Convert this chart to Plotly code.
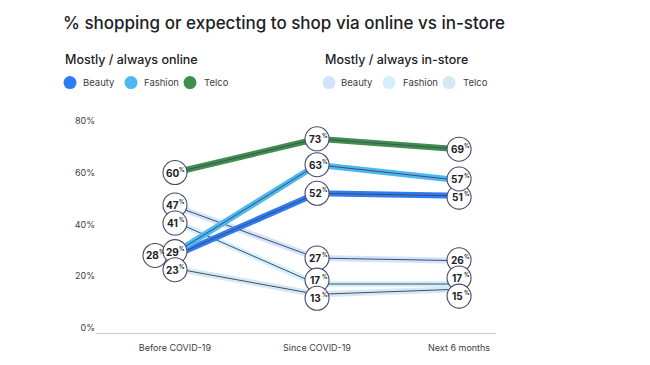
import plotly.graph_objects as go

# ---------------- data ----------------
periods = ["Before COVID-19", "Since COVID-19", "Next 6 months"]
categories = ["Beauty", "Fashion", "Telco"]
online_beauty = [28, 52, 51]
online_fashion = [29, 63, 57]
online_telco = [60, 73, 69]
instore_beauty = [47, 27, 26]
instore_fashion = [41, 17, 17]
instore_telco = [23, 13, 15]
y_tick_values = [0, 20, 40, 60, 80]
y_tick_labels = ["0%", "20%", "40%", "60%", "80%"]

# ---------------- style ----------------
PAGE = 8                      # default body margin of the html page
W, H = 650 - PAGE, 365 - PAGE
ML, MR, MT, MB = 88, 154, 108, 28
PLOT_W, PLOT_H = W - ML - MR, H - MT - MB
X_RANGE = [-0.556, 2.26]
Y_RANGE = [-1.9, 81.8]
FONT = "Inter"
DARK = "#202124"
TEXT = "#3c4043"
LINE_DARK = "#454b6b"
online_colors = ["#2d7cf4", "#4cb8f2", "#3f8f4c"]
instore_colors = ["#d3e3fc", "#d3f0fb", "#d4e9f0"]
MIN_SEP = 7        # minimum vertical separation of value bubbles (data units)
DODGE_PX = 20      # horizontal dodge for near-identical values (pixels)

series = [
    ("online", "Beauty", online_beauty, online_colors[0]),
    ("online", "Fashion", online_fashion, online_colors[1]),
    ("online", "Telco", online_telco, online_colors[2]),
    ("instore", "Beauty", instore_beauty, instore_colors[0]),
    ("instore", "Fashion", instore_fashion, instore_colors[1]),
    ("instore", "Telco", instore_telco, instore_colors[2]),
]

x_idx = list(range(len(periods)))
dodge_units = DODGE_PX / (PLOT_W / (X_RANGE[1] - X_RANGE[0]))

# label placement: dodge near-identical values sideways, repel the rest vertically
label_x = [[float(i) for i in x_idx] for _ in series]
label_y = [[float(v) for v in s[2]] for s in series]
for col in x_idx:
    vals = [(s[2][col], k) for k, s in enumerate(series)]
    dodged = set()
    for a in range(len(vals)):
        for b in range(a + 1, len(vals)):
            if abs(vals[a][0] - vals[b][0]) < 2 and vals[a][1] not in dodged and vals[b][1] not in dodged:
                lower = vals[a] if vals[a][0] < vals[b][0] else vals[b]
                dodged.add(lower[1])
                label_x[lower[1]][col] -= dodge_units
    keys = [k for _, k in vals if k not in dodged]
    pos = {k: float(series[k][2][col]) for k in keys}
    for _ in range(80):
        order = sorted(keys, key=lambda k: pos[k])
        for a, b in zip(order, order[1:]):
            gap = pos[b] - pos[a]
            if gap < MIN_SEP:
                push = (MIN_SEP - gap) / 2
                pos[a] -= push
                pos[b] += push
    for k in keys:
        label_y[k][col] = pos[k]

fig = go.Figure()

# lines: in-store first, then online; glow + thin dark core
for group in ["instore", "online"]:
    for kind, cat, vals, color in series:
        if kind != group:
            continue
        fig.add_trace(go.Scatter(x=x_idx, y=vals, mode="lines",
                                 line=dict(color=color, width=6),
                                 hoverinfo="skip", showlegend=False))
        fig.add_trace(go.Scatter(x=x_idx, y=vals, mode="lines",
                                 line=dict(color=LINE_DARK, width=1),
                                 hoverinfo="skip", showlegend=False))

annotations = []
# value bubbles (circle markers + number and small % as text)
for k, (kind, cat, vals, color) in enumerate(series):
    fig.add_trace(go.Scatter(
        x=label_x[k], y=label_y[k], mode="markers",
        marker=dict(size=24, color="white", line=dict(color=LINE_DARK, width=1.1)),
        hoverinfo="skip", showlegend=False, cliponaxis=False))
    for xv, yv, v in zip(label_x[k], label_y[k], vals):
        annotations.append(dict(x=xv, y=yv, xref="x", yref="y", text=str(v),
                                showarrow=False, xanchor="center", yanchor="middle",
                                xshift=-2, font=dict(family=FONT, size=10, color=DARK, weight="bold")))
        annotations.append(dict(x=xv, y=yv, xref="x", yref="y", text="%",
                                showarrow=False, xanchor="center", yanchor="middle",
                                xshift=7.5, yshift=3, font=dict(family=FONT, size=5.5, color=DARK, weight="bold")))


def px(x):
    """page x pixel -> paper coordinate"""
    return (x - PAGE - ML) / PLOT_W


def py(y):
    """page y pixel -> paper coordinate"""
    return (H - MB - (y - PAGE)) / PLOT_H


shapes = []
# group headers
for xpx, txt in [(63, "Mostly / always online"), (323, "Mostly / always in-store")]:
    annotations.append(dict(x=px(xpx), y=py(58), xref="paper", yref="paper",
                            xanchor="left", yanchor="middle", showarrow=False,
                            text=txt, font=dict(family=FONT, size=12.5, color=DARK, weight=500)))
# legend items
legend_online = [(70, 81), (131, 142), (190, 202)]
legend_instore = [(329, 339), (389, 401), (449, 461)]
for items, cols in [(legend_online, online_colors), (legend_instore, instore_colors)]:
    for (xc, xt), cat, col in zip(items, categories, cols):
        shapes.append(dict(type="circle", xref="paper", yref="paper",
                           xsizemode="pixel", ysizemode="pixel",
                           xanchor=px(xc), yanchor=py(82),
                           x0=-6.5, x1=6.5, y0=-6.5, y1=6.5,
                           fillcolor=col, line=dict(width=0)))
        annotations.append(dict(x=px(xt), y=py(82), xref="paper", yref="paper",
                                xanchor="left", yanchor="middle", showarrow=False,
                                text=cat, font=dict(family=FONT, size=9.5, color=TEXT)))

fig.update_layout(
    width=W, height=H,
    margin=dict(l=ML, r=MR, t=MT, b=MB),
    paper_bgcolor="white", plot_bgcolor="white",
    title=dict(text="% shopping or expecting to shop via online vs in-store",
               x=(63 - PAGE) / W, y=1 - (23 - PAGE) / H, xref="container", yref="container",
               xanchor="left", yanchor="middle",
               font=dict(family=FONT, size=17, color=DARK, weight=500)),
    font=dict(family=FONT, size=9, color=TEXT),
    annotations=annotations, shapes=shapes,
    showlegend=False,
    xaxis=dict(range=X_RANGE, tickvals=x_idx, ticktext=periods, showgrid=False,
               zeroline=False, showline=True, linecolor="#c5cbe9", linewidth=1,
               ticks="", tickfont=dict(family=FONT, size=9, color=TEXT),
               ticklabelstandoff=6, fixedrange=True),
    yaxis=dict(range=Y_RANGE, tickvals=y_tick_values, ticktext=y_tick_labels,
               showgrid=False, zeroline=False, showline=False, ticks="",
               tickfont=dict(family=FONT, size=9, color=TEXT), fixedrange=True),
)

fig.write_html("out.html")
